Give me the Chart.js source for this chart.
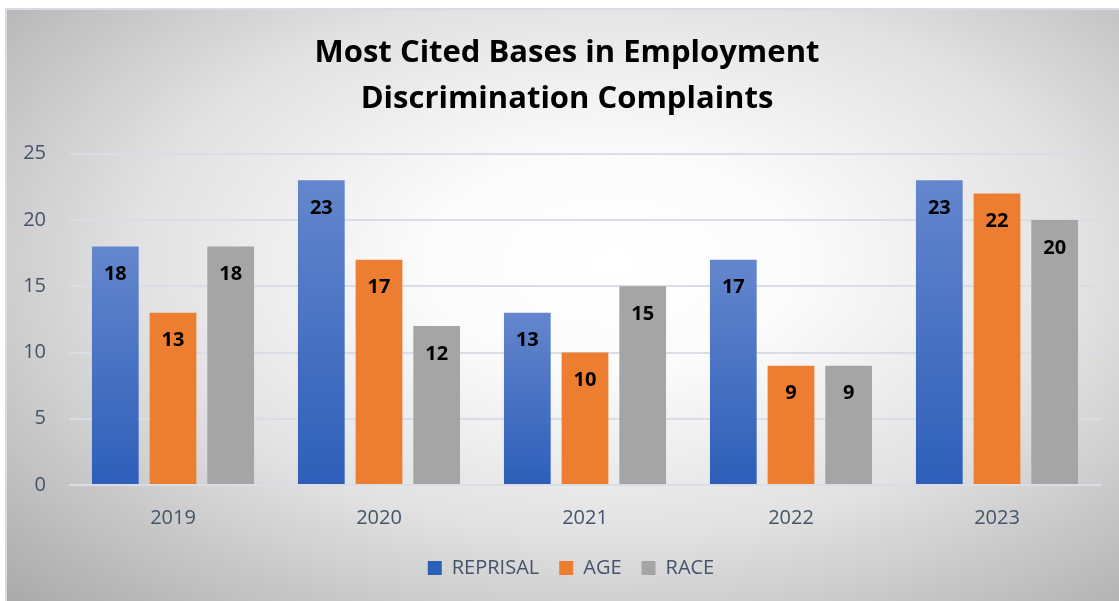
<!DOCTYPE html>
<html>
<head>
<meta charset="utf-8">
<script src="https://cdn.jsdelivr.net/npm/chart.js@4"></script>
<style>
  html, body { margin: 0; padding: 0; width: 1119px; height: 601px; overflow: hidden; background: #fff; }
  #bg {
    position: absolute; left: 5px; top: 8px; width: 1120px; height: 600px;
    border-left: 2px solid #d6dbe6; border-top: 2px solid #d6dbe6;
    background: radial-gradient(ellipse farthest-corner at 54% 42%, #ffffff 0%, #fbfbfb 22%, #e2e2e2 55%, #a8a8a8 100%);
  }
  #wrap { position: absolute; left: 0; top: 0; width: 1119px; height: 601px; }
</style>
</head>
<body>
<div id="bg"></div>
<div id="wrap"><canvas id="chart-1"></canvas></div>
<script>
const years = ["2019", "2020", "2021", "2022", "2023"];
const reprisal = [18, 23, 13, 17, 23];
const age = [13, 17, 10, 9, 22];
const race = [18, 12, 15, 9, 20];
const yTicks = [0, 5, 10, 15, 20, 25];

const font = "'Open Sans', 'Noto Sans', sans-serif";
const axisColor = "#44546a";

function blueFill(context) {
  const chart = context.chart;
  if (!chart.chartArea || context.type !== "data") return "#4472c4";
  const ys = chart.scales.y;
  const top = ys.getPixelForValue(context.raw);
  const bottom = ys.getPixelForValue(0);
  const g = chart.ctx.createLinearGradient(0, top, 0, bottom);
  g.addColorStop(0, "#6486cd");
  g.addColorStop(1, "#2d5fb9");
  return g;
}

// labels drawn inside the top of each bar
const barLabels = {
  id: "barLabels",
  afterLayout(chart) {
    // title and legend sit centred on the whole panel, a bit right of the canvas centre
    chart.titleBlock.left += 17;
    chart.titleBlock.right += 17;
    chart.legend.left += 21;
    chart.legend.right += 21;
    chart.legend.top -= 5;
    chart.legend.bottom -= 5;
  },
  afterDatasetsDraw(chart) {
    const ctx = chart.ctx;
    ctx.save();
    ctx.font = "bold 20px " + font;
    ctx.fillStyle = "#000";
    ctx.textAlign = "center";
    ctx.textBaseline = "middle";
    chart.data.datasets.forEach((ds, i) => {
      chart.getDatasetMeta(i).data.forEach((bar, j) => {
        ctx.fillText(ds.data[j], bar.x, bar.y + 28);
      });
    });
    ctx.restore();
  },
};

new Chart(document.getElementById("chart-1"), {
  type: "bar",
  data: {
    labels: years,
    datasets: [
      { label: "REPRISAL", data: reprisal, backgroundColor: blueFill },
      { label: "AGE", data: age, backgroundColor: "#ed7d31" },
      { label: "RACE", data: race, backgroundColor: "#a5a5a5" },
    ],
  },
  options: {
    responsive: true,
    maintainAspectRatio: false,
    animation: { duration: 0 },
    datasets: { bar: { categoryPercentage: 0.84, barPercentage: 0.81 } },
    layout: { padding: { left: 0, right: 19, top: 0, bottom: 8 } },
    scales: {
      x: {
        grid: { display: false },
        border: { color: "#d9dde6", width: 2 },
        ticks: { color: axisColor, font: { family: font, size: 20 }, padding: 13 },
      },
      y: {
        min: 0,
        max: 25,
        afterBuildTicks(scale) {
          scale.ticks = yTicks.map((v) => ({ value: v }));
        },
        afterFit(scale) {
          scale.width = 70;
        },
        grid: { color: "#d9dde6", lineWidth: 2, drawTicks: false },
        border: { display: false },
        ticks: { color: axisColor, font: { family: font, size: 20 }, padding: 24 },
      },
    },
    plugins: {
      title: {
        display: true,
        text: ["Most Cited Bases in Employment", "Discrimination Complaints"],
        color: "#000",
        font: { family: font, size: 31, weight: "bold", lineHeight: 1.48 },
        padding: { top: 30, bottom: 32 },
      },
      legend: {
        display: true,
        position: "bottom",
        labels: {
          color: axisColor,
          font: { family: font, size: 20 },
          boxWidth: 14,
          boxHeight: 14,
          padding: 20,
        },
      },
      tooltip: { enabled: false },
    },
  },
  plugins: [barLabels],
});
</script>
</body>
</html>
